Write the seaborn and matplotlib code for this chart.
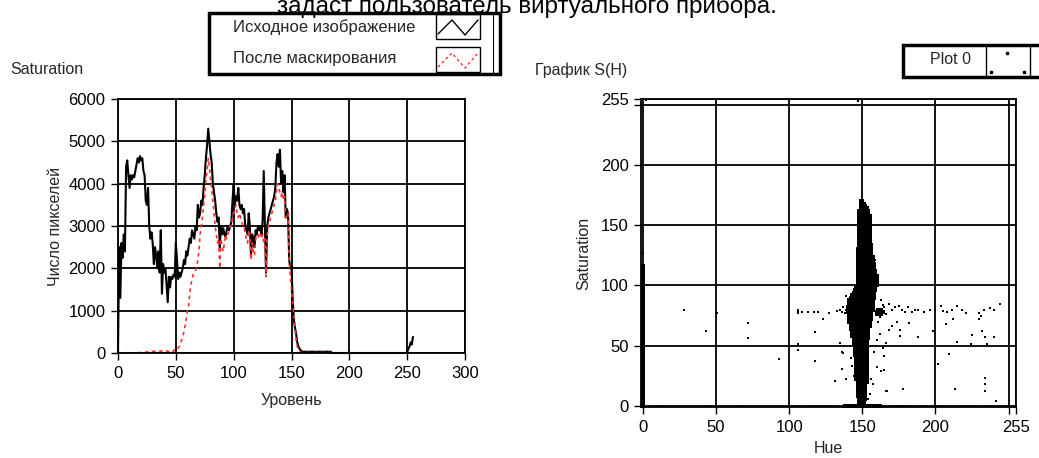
import numpy as np
import pandas as pd
import matplotlib
matplotlib.use('Agg')
import matplotlib.pyplot as plt
import seaborn as sns
from matplotlib.patches import Rectangle
from matplotlib.lines import Line2D

W, H = 1039, 458

# --------------------------------------------------------------
# Left chart: saturation histogram, levels 0..255
# --------------------------------------------------------------
original_counts = [
    0, 2500, 1300, 2600, 2250, 2800, 2400, 4400, 4550, 4200, 3900, 4200, 4100, 4200, 4150, 4300,
    4450, 4600, 4500, 4650, 4550, 4600, 4300, 4200, 3600, 3500, 3900, 3000, 2700, 2850, 2600, 2100,
    2500, 2300, 2000, 2400, 1900, 2900, 1400, 2100, 1900, 2000, 1600, 1200, 1800, 1550, 1800, 1750,
    1850, 1800, 2600, 2200, 1750, 1900, 1800, 1900, 2000, 2200, 2100, 2400, 2300, 2500, 2700, 2600,
    2900, 2800, 2700, 3000, 2900, 3500, 3200, 3300, 3600, 3500, 3900, 4200, 4600, 4900, 5300, 5000,
    4700, 4500, 4000, 3800, 3600, 3300, 3100, 3200, 2500, 3000, 2800, 2950, 2800, 2750, 2900, 3000,
    2900, 3000, 3100, 3600, 4000, 3500, 3700, 3600, 3900, 3500, 3400, 3500, 3300, 3400, 3000, 2900,
    2800, 3300, 3000, 2300, 2800, 2700, 2500, 2900, 2800, 3000, 2900, 3000, 2800, 3100, 4300, 3000,
    1900, 3000, 3200, 3300, 3400, 3500, 3600, 3700, 3900, 4500, 4700, 4400, 4800, 4000, 4300, 3800,
    4200, 3200, 3400, 3300, 2200, 2000, 2050, 1300, 800, 600, 450, 250, 150, 100, 60, 40,
    30, 30, 30, 30, 30, 30, 30, 30, 30, 30, 30, 30, 30, 30, 30, 30,
    30, 30, 30, 30, 30, 30, 30, 30, 30, 0, 0, 0, 0, 0, 0, 0,
    0, 0, 0, 0, 0, 0, 0, 0, 0, 0, 0, 0, 0, 0, 0, 0,
    0, 0, 0, 0, 0, 0, 0, 0, 0, 0, 0, 0, 0, 0, 0, 0,
    0, 0, 0, 0, 0, 0, 0, 0, 0, 0, 0, 0, 0, 0, 0, 0,
    0, 0, 0, 0, 0, 0, 0, 0, 0, 0, 20, 100, 150, 250, 200, 380,
]

# masked histogram (visible up to level 184)
masked_counts = [
    0, 10, 0, 0, 5, 0, 10, 0, 0, 20, 0, 0, 0, 5, 0, 10,
    0, 0, 20, 0, 10, 0, 0, 30, 20, 20, 30, 40, 40, 30, 40, 40,
    40, 40, 30, 40, 40, 50, 40, 40, 30, 50, 50, 40, 30, 60, 40, 50,
    40, 80, 60, 80, 120, 150, 250, 300, 400, 500, 650, 800, 1000, 1100, 1400, 1600,
    1750, 1850, 1900, 1950, 2000, 2200, 2400, 2800, 3000, 3200, 3500, 3700, 4100, 4300, 4600, 4400,
    4100, 3900, 3600, 3300, 3000, 2800, 2600, 2700, 2000, 2700, 2500, 2400, 2600, 2800, 2700, 2800,
    2900, 3000, 3000, 3200, 3300, 3400, 3500, 3300, 3200, 3300, 3200, 3100, 3000, 3000, 2800, 2700,
    2600, 2900, 2800, 2200, 2600, 2400, 2300, 2700, 2800, 2800, 2700, 2800, 2700, 2800, 2600, 2700,
    1800, 2800, 3000, 3100, 3200, 3300, 3400, 3500, 3600, 3800, 4000, 3900, 3800, 3700, 3800, 3600,
    3700, 3200, 3300, 3300, 2200, 1800, 1500, 1200, 900, 600, 300, 150, 80, 40, 10, 10,
    10, 10, 10, 10, 10, 10, 10, 10, 10, 10, 10, 10, 10, 10, 10, 10,
    10, 10, 10, 10, 10, 10, 10, 10, 10,
]

hist_xticks = [0, 50, 100, 150, 200, 250, 300]
hist_yticks = [0, 1000, 2000, 3000, 4000, 5000, 6000]

# --------------------------------------------------------------
# Right chart: S(H) scatter
# dense cluster, one row per 2 saturation units: hue range filled
# --------------------------------------------------------------
blob_sat = [
    0, 2, 4, 6, 8, 10, 12, 14, 16, 18, 20, 22, 24, 26, 28, 30, 32, 34, 36, 38, 40,
    42, 44, 46, 48, 50, 52, 54, 56, 58, 60, 62, 64, 66, 68, 70, 72, 74, 76, 78, 80,
    82, 84, 86, 88, 90, 92, 94, 96, 98, 100, 102, 104, 106, 108, 110, 112, 114, 116, 118, 120,
    122, 124, 126, 128, 130, 132, 134, 136, 138, 140, 142, 144, 146, 148, 150, 152, 154, 156, 158, 160,
    162, 164, 166, 168, 170,
]
blob_hue_lo = [
    138, 148, 148, 148, 147, 147, 147, 147, 147, 147, 147, 146, 146, 146, 146, 146, 146, 146, 146, 146, 146,
    145, 145, 145, 145, 145, 144, 144, 144, 143, 143, 143, 142, 142, 142, 141, 141, 141, 141, 140, 140,
    140, 141, 141, 141, 142, 143, 144, 145, 146, 147, 147, 147, 147, 147, 147, 147, 147, 147, 147, 147,
    147, 147, 147, 147, 147, 148, 148, 148, 148, 148, 148, 148, 148, 148, 148, 148, 148, 148, 148, 148,
    148, 149, 149, 149, 149,
]
blob_hue_hi = [
    162, 151, 151, 152, 152, 152, 152, 152, 152, 152, 153, 153, 153, 153, 153, 153, 153, 153, 153, 153, 153,
    153, 153, 153, 153, 153, 153, 153, 154, 154, 154, 154, 154, 155, 155, 155, 156, 156, 156, 156, 157,
    157, 157, 157, 157, 158, 158, 158, 159, 159, 160, 160, 160, 160, 160, 159, 159, 158, 158, 158, 157,
    157, 157, 156, 156, 156, 156, 156, 155, 155, 155, 155, 155, 155, 155, 155, 155, 155, 155, 155, 154,
    154, 153, 152, 151, 150,
]

# small shoulder to the right of the cluster
shoulder_sat = [76, 78, 80]
shoulder_hue_lo = [160, 160, 161]
shoulder_hue_hi = [163, 164, 163]

# hue = 0 column goes from saturation 0 up to this value
hue0_sat_top = 117

# isolated points
point_hue = [
    2, 147, 0, 28, 43, 51, 72, 72, 93, 106, 106, 106, 106, 106, 109, 113, 117, 120, 118, 118,
    123, 127, 131, 133, 135, 136, 137, 138, 139, 136, 137, 136, 139, 135, 139, 142, 143, 144, 145,
    160, 162, 165, 165, 163, 167, 158, 156, 160, 157, 155, 154, 161, 163, 159, 161,
    168, 170, 172, 175, 177, 179, 181, 184, 186, 188, 192, 196, 200, 204, 205, 208, 211, 215, 218,
    221, 230, 231, 233, 237, 240, 244, 176, 176, 182, 188, 198, 202, 207, 212, 215, 209, 213, 225,
    224, 230, 232, 234, 235, 240, 234, 234, 234, 241, 178, 166, 174, 170, 168, 166, 164,
    10, 44, 66, 106, 118, 123, 127, 169, 174, 177, 182, 190, 202, 221, 224, 234,
    158, 165, 166, 162, 164,
]
point_sat = [
    254, 253, 127, 80, 62, 77, 69, 56, 39, 77, 79, 80, 51, 46, 78, 78, 78, 78, 61, 37,
    72, 77, 21, 79, 80, 78, 82, 77, 80, 45, 44, 31, 22, 52, 91, 40, 33, 25, 47,
    55, 60, 41, 30, 29, 12, 45, 22, 32, 18, 10, 6, 70, 88, 121, 108,
    85, 80, 82, 83, 80, 78, 82, 78, 80, 80, 78, 80, 80, 83, 79, 78, 80, 83, 80,
    77, 77, 75, 80, 81, 80, 85, 63, 58, 69, 57, 62, 35, 68, 72, 53, 43, 14, 59,
    51, 72, 62, 57, 51, 57, 23, 18, 12, 4, 14, 12, 70, 66, 63, 52, 48,
    0, 0, 0, 0, 0, 0, 0, 0, 0, 0, 0, 0, 0, 0, 0, 0,
    83, 82, 76, 74, 84,
]

scatter_ticks = [0, 50, 100, 150, 200, 250, 255]
scatter_ticklabels = ['0', '50', '100', '150', '200', '', '255']

# --------------------------------------------------------------
sns.set_theme(style="white")
plt.rcParams['font.family'] = ['Liberation Sans', 'DejaVu Sans']

fig = plt.figure(figsize=(W / 100, H / 100), dpi=100)
fig.patch.set_facecolor('white')


def fx(x):
    return x / W


def fy(y):
    return 1 - y / H


def style_axes(ax):
    ax.set_facecolor('white')
    ax.grid(True, color='black', lw=1.3)
    ax.set_axisbelow(True)
    for sp in ax.spines.values():
        sp.set_color('black')
        sp.set_linewidth(1.3)
    ax.tick_params(bottom=True, left=True, direction='out', length=5, width=1,
                   colors='black', labelsize=12, pad=4)


# ---- left histogram ----
ax1 = fig.add_axes([fx(118), fy(353), (465 - 118) / W, (353 - 99) / H])
df_orig = pd.DataFrame({"level": np.arange(len(original_counts)), "count": original_counts})
df_mask = pd.DataFrame({"level": np.arange(len(masked_counts)), "count": masked_counts})
sns.lineplot(data=df_orig, x="level", y="count", ax=ax1, color='black', lw=1.5)
sns.lineplot(data=df_mask, x="level", y="count", ax=ax1, color='#ff3030', lw=1.2,
             dashes=False, linestyle=(0, (2.2, 2.2)))
ax1.set_xlim(0, 300)
ax1.set_ylim(0, 6000)
ax1.set_xticks(hist_xticks)
ax1.set_yticks(hist_yticks)
style_axes(ax1)
ax1.set_xlabel('Уровень', fontsize=11.5, labelpad=9)
ax1.set_ylabel('Число пикселей', fontsize=11.5, labelpad=4)
for ln in ax1.lines:
    ln.set_clip_on(False)

# ---- right scatter ----
ax2 = fig.add_axes([fx(641), fy(407), (1016 - 641) / W, (407 - 99) / H])
cells = []
for s, lo, hi in zip(blob_sat, blob_hue_lo, blob_hue_hi):
    for h in range(lo, hi + 1):
        cells.append((h, s))
for s, lo, hi in zip(shoulder_sat, shoulder_hue_lo, shoulder_hue_hi):
    for h in range(lo, hi + 1):
        cells.append((h, s))
for s in range(0, hue0_sat_top + 1, 2):
    cells.append((0, s))
df_blob = pd.DataFrame(cells, columns=["Hue", "Saturation"])
df_pts = pd.DataFrame({"Hue": point_hue, "Saturation": point_sat})
sns.scatterplot(data=df_blob, x="Hue", y="Saturation", ax=ax2, color='black',
                marker='s', s=9, linewidth=0)
sns.scatterplot(data=df_pts, x="Hue", y="Saturation", ax=ax2, color='black',
                marker='s', s=2.5, linewidth=0)
ax2.set_xlim(-1.2, 255)
ax2.set_ylim(-1, 255)
ax2.set_xticks(scatter_ticks)
ax2.set_xticklabels(scatter_ticklabels)
ax2.set_yticks(scatter_ticks)
ax2.set_yticklabels(scatter_ticklabels)
style_axes(ax2)
ax2.set_xlabel('Hue', fontsize=11.5, labelpad=5)
ax2.set_ylabel('Saturation', fontsize=11.5, labelpad=7)

# ---- texts around (the caption is cut by the top edge, as in the source) ----
fig.text(fx(277), fy(13), 'задаст пользователь виртуального прибора.', fontsize=17.5,
         ha='left', va='baseline', color='black')
fig.text(fx(10), fy(70), 'Saturation', fontsize=11.5, ha='left', va='center')
fig.text(fx(535), fy(70), 'График S(H)', fontsize=11.5, ha='left', va='center')

# legend of the histogram
fig.patches.append(Rectangle((fx(209), fy(74)), (500 - 209) / W, (74 - 13) / H,
                             transform=fig.transFigure, fill=True, facecolor='white',
                             edgecolor='black', lw=2.5))
fig.lines.append(Line2D([fx(493), fx(493)], [fy(14), fy(73)], transform=fig.transFigure,
                        color='black', lw=0.8))
fig.text(fx(233), fy(27), 'Исходное изображение', fontsize=12, ha='left', va='center')
fig.text(fx(233), fy(59), 'После маскирования', fontsize=12, ha='left', va='center')
for top, col, ls in [(14, 'black', '-'), (47, '#ff3030', (0, (2, 2)))]:
    fig.patches.append(Rectangle((fx(436), fy(top + 25)), 44 / W, 25 / H,
                                 transform=fig.transFigure, fill=False,
                                 edgecolor='black', lw=1))
    fig.lines.append(Line2D([fx(438), fx(452), fx(465), fx(478)],
                            [fy(top + 20), fy(top + 6), fy(top + 21), fy(top + 6)],
                            transform=fig.transFigure, color=col, lw=1, linestyle=ls))

# legend of the scatter
fig.patches.append(Rectangle((fx(903), fy(77)), (1045 - 903) / W, (77 - 45) / H,
                             transform=fig.transFigure, fill=True, facecolor='white',
                             edgecolor='black', lw=2.5))
for xv in (986, 1030):
    fig.lines.append(Line2D([fx(xv), fx(xv)], [fy(47), fy(75)], transform=fig.transFigure,
                            color='black', lw=1))
fig.text(fx(950), fy(60), 'Plot 0', fontsize=11.5, ha='center', va='center')
for px, py in [(990, 72), (1006, 53), (1023, 72)]:
    fig.patches.append(Rectangle((fx(px), fy(py + 1)), 1.5 / W, 1.5 / H,
                                 transform=fig.transFigure, color='black'))

fig.savefig('out.png', dpi=100, facecolor='white')
